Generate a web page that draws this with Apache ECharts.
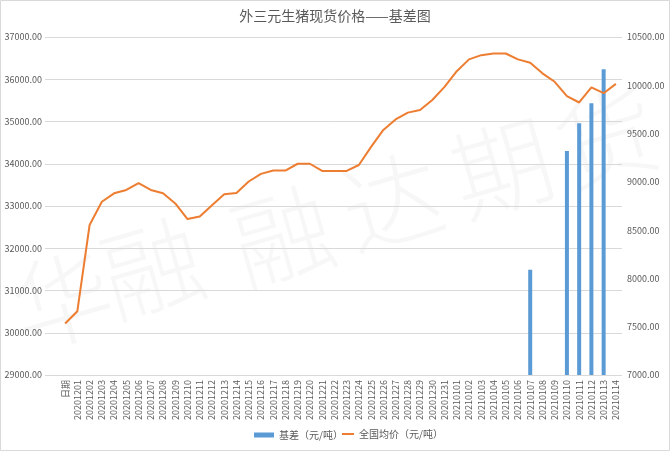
<!DOCTYPE html>
<html>
<head>
<meta charset="utf-8">
<script src="https://cdn.jsdelivr.net/npm/echarts@6/dist/echarts.min.js"></script>
<style>html,body{margin:0;padding:0;background:#fff;}#main{width:670px;height:452px;}</style>
</head>
<body>
<div id="main"></div>
<script>
const categories = ['日期',
  '20201201','20201202','20201203','20201204','20201205','20201206','20201207','20201208','20201209','20201210',
  '20201211','20201212','20201213','20201214','20201215','20201216','20201217','20201218','20201219','20201220',
  '20201221','20201222','20201223','20201224','20201225','20201226','20201227','20201228','20201229','20201230','20201231',
  '20210101','20210102','20210103','20210104','20210105','20210106','20210107','20210108','20210109','20210110',
  '20210111','20210112','20210113','20210114'];
const priceValues = [30220,30510,32550,33100,33300,33380,33540,33380,33300,33060,32690,
  32750,33020,33280,33310,33580,33760,33840,33840,34000,34000,
  33830,33830,33830,33970,34400,34800,35050,35210,35270,35510,35820,
  36190,36470,36570,36610,36610,36470,36390,36140,35940,35600,
  35450,35810,35670,35890];
const basisValues = [null,
  null,null,null,null,null,null,null,null,null,null,
  null,null,null,null,null,null,null,null,null,null,
  null,null,null,null,null,null,null,null,null,null,null,
  null,null,null,null,null,null,8090,null,null,9320,
  9606,9813,10165,null];
const leftTicks = {min:29000, max:37000, interval:1000};
const rightTicks = {min:7000, max:10500, interval:500};
const watermark = ['华','融','融','达','期','货'];

const chart = echarts.init(document.getElementById('main'), null, {renderer:'canvas'});
const font = '"Noto Sans CJK SC","Noto Sans",sans-serif';
const grey = '#595959';
const wmPos = [[62,300],[152,268],[282,236],[392,202],[502,168],[606,138]];
const graphics = watermark.map((ch,i)=>({
  type:'text', x:wmPos[i][0], y:wmPos[i][1], rotation:0.28, z:-10,
  style:{text:ch, fill:'rgba(0,0,0,0.03)', font:'300 100px '+font, align:'center', verticalAlign:'middle'}
}));
graphics.push({type:'rect', shape:{x:0.5,y:0.5,width:669,height:450}, style:{fill:null, stroke:'#d9d9d9', lineWidth:1}, z:-20, silent:true});

chart.setOption({
  backgroundColor:'#fff',
  animation:false,
  textStyle:{fontFamily:font},
  title:{text:'外三元生猪现货价格——基差图', left:'center', top:4,
    textStyle:{fontSize:14, fontWeight:'normal', color:grey, fontFamily:font}},
  legend:[
    {left:249, bottom:7, itemWidth:20, itemHeight:5,
      textStyle:{fontSize:10, color:grey},
      data:[{name:'基差（元/吨）', icon:'rect'}]},
    {left:337, bottom:8, itemWidth:12, itemHeight:2,
      textStyle:{fontSize:10, color:grey},
      data:[{name:'全国均价（元/吨）', icon:'rect'}]}
  ],
  graphic:graphics,
  grid:[
    {left:45, right:48, top:37, bottom:77},
    {left:59, right:48, top:37, bottom:77}
  ],
  xAxis:[
    {type:'value', gridIndex:0, show:false, min:0, max:1},
    {type:'category', gridIndex:1, data:categories, boundaryGap:true,
      axisLine:{show:false}, axisTick:{show:false},
      axisLabel:{interval:0, rotate:90, fontSize:9, color:grey, margin:5}}
  ],
  yAxis:[
    {type:'value', gridIndex:0, position:'left', min:leftTicks.min, max:leftTicks.max, interval:leftTicks.interval,
      axisLine:{show:false}, axisTick:{show:false},
      axisLabel:{fontSize:9, color:grey, margin:3, formatter:v=>v.toFixed(2)},
      splitLine:{lineStyle:{color:'#d9d9d9', width:1}}},
    {type:'value', gridIndex:0, position:'right', min:rightTicks.min, max:rightTicks.max, interval:rightTicks.interval,
      axisLine:{show:false}, axisTick:{show:false},
      axisLabel:{fontSize:9, color:grey, margin:5, formatter:v=>v.toFixed(2)},
      splitLine:{show:false}},
    {type:'value', gridIndex:1, position:'left', min:leftTicks.min, max:leftTicks.max, interval:leftTicks.interval, show:false, splitLine:{show:false}},
    {type:'value', gridIndex:1, position:'right', min:rightTicks.min, max:rightTicks.max, interval:rightTicks.interval, show:false, splitLine:{show:false}}
  ],
  series:[
    {name:'基差（元/吨）', type:'bar', xAxisIndex:1, yAxisIndex:3, data:basisValues, barWidth:4,
      itemStyle:{color:'#5B9BD5'}},
    {name:'全国均价（元/吨）', type:'line', xAxisIndex:1, yAxisIndex:2, data:priceValues,
      symbol:'none', lineStyle:{color:'#ED7D31', width:2}, itemStyle:{color:'#ED7D31'}}
  ]
});
</script>
</body>
</html>
